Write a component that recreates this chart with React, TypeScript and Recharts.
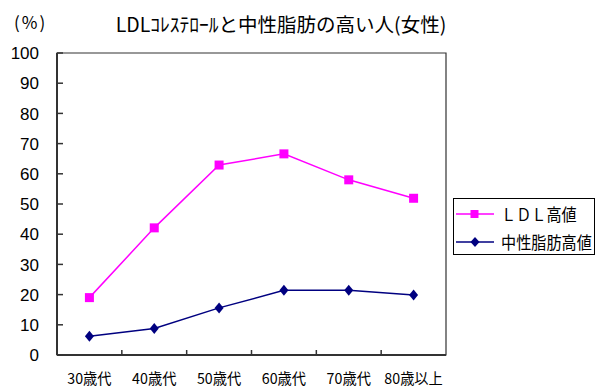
import React from 'react';
import { LineChart, Line, XAxis, YAxis, ReferenceArea } from 'recharts';

const categories = ['30歳代', '40歳代', '50歳代', '60歳代', '70歳代', '80歳以上'];
const ldlValues = [19.0, 42.1, 62.9, 66.6, 58.0, 51.9];
const tgValues = [6.2, 8.8, 15.6, 21.4, 21.4, 19.9];
const yTicks = [0, 10, 20, 30, 40, 50, 60, 70, 80, 90, 100];
const seriesNames = ['ＬＤＬ高値', '中性脂肪高値'];
const titleText = 'LDLｺﾚｽﾃﾛｰﾙと中性脂肪の高い人(女性)';
const unitText = '(%)';

const data = categories.map((c, i) => ({ cat: c, ldl: ldlValues[i], tg: tgValues[i] }));

const W = 601;
const H = 388;
const M = { top: 53, right: 155, bottom: 0, left: 0 };
const Y_AXIS_W = 57;
const X_AXIS_H = 33;
const PLOT_W = W - M.right - M.left - Y_AXIS_W;
const BAND = PLOT_W / categories.length;

const LDL_COLOR = '#FF00FF';
const TG_COLOR = '#000080';
const AXIS_COLOR = '#333333';
const CJK = '"Noto Sans CJK JP", "Noto Sans", sans-serif';
const LATIN = '"Liberation Sans", Arial, sans-serif';

const SquareDot = (props: any) => {
  const { cx, cy } = props;
  if (cx == null || cy == null) return null;
  return <rect x={cx - 4.5} y={cy - 4.5} width={9} height={9} fill={LDL_COLOR} />;
};

const DiamondDot = (props: any) => {
  const { cx, cy } = props;
  if (cx == null || cy == null) return null;
  const r = 5.5;
  return (
    <polygon
      points={`${cx},${cy - r} ${cx + r - 1},${cy} ${cx},${cy + r} ${cx - r + 1},${cy}`}
      fill={TG_COLOR}
    />
  );
};

const YTick = (props: any) => {
  const { x, y, payload } = props;
  return (
    <g>
      <line x1={x} x2={x + 6} y1={y} y2={y} stroke={AXIS_COLOR} strokeWidth={1.5} />
      <text x={x - 18} y={y} dy="0.36em" textAnchor="end" fontFamily={LATIN} fontSize={17} fill="#000">
        {payload.value}
      </text>
    </g>
  );
};

const XTick = (props: any) => {
  const { x, y, payload, index } = props;
  return (
    <g>
      {index < categories.length - 1 && (
        <line x1={x + BAND / 2} x2={x + BAND / 2} y1={y} y2={y - 5} stroke={AXIS_COLOR} strokeWidth={1.5} />
      )}
      <text
        x={x}
        y={y + 24}
        dy="0.36em"
        textAnchor="middle"
        fontFamily={CJK}
        fontSize={15}
        fill="#000"
        transform={`translate(${x} 0) scale(0.95 1) translate(${-x} 0)`}
      >
        {payload.value}
      </text>
    </g>
  );
};

const LegendBox = () => (
  <div
    style={{
      position: 'absolute',
      left: 453,
      top: 198,
      width: 142,
      height: 57,
      border: '1px solid #000',
      background: '#fff',
      boxSizing: 'border-box',
    }}
  >
    {[0, 1].map((i) => (
      <div key={i} style={{ position: 'absolute', left: 2, top: i === 0 ? 3 : 31, height: 24, width: 140 }}>
        <svg width={40} height={24} style={{ position: 'absolute', left: 0, top: 0 }}>
          <line x1={0} x2={38} y1={12} y2={12} stroke={i === 0 ? LDL_COLOR : TG_COLOR} strokeWidth={1.5} />
          {i === 0 ? (
            <rect x={14.5} y={8} width={8} height={8} fill={LDL_COLOR} />
          ) : (
            <polygon points="19,7 23.5,12 19,17 14.5,12" fill={TG_COLOR} />
          )}
        </svg>
        <div
          style={{
            position: 'absolute',
            left: 45,
            top: 0,
            height: 24,
            lineHeight: '24px',
            fontFamily: CJK,
            fontSize: 17,
            color: '#000',
            whiteSpace: 'nowrap',
            transform: 'scaleX(0.89)',
            transformOrigin: 'left center',
          }}
        >
          {seriesNames[i]}
        </div>
      </div>
    ))}
  </div>
);

export default function App() {
  return (
    <div style={{ position: 'absolute', left: 0, top: 0, width: W, height: H, background: '#fff' }}>
      <LineChart width={W} height={H} data={data} margin={M}>
        <XAxis
          dataKey="cat"
          scale="band"
          height={X_AXIS_H}
          axisLine={{ stroke: AXIS_COLOR, strokeWidth: 2 }}
          tickLine={false}
          tickSize={0}
          tickMargin={0}
          interval={0}
          tick={<XTick />}
        />
        <YAxis
          width={Y_AXIS_W}
          domain={[0, 100]}
          ticks={yTicks}
          interval={0}
          axisLine={{ stroke: AXIS_COLOR, strokeWidth: 2 }}
          tickLine={false}
          tickSize={0}
          tickMargin={0}
          tick={<YTick />}
        />
        <ReferenceArea
          x1={categories[0]}
          x2={categories[categories.length - 1]}
          y1={0}
          y2={100}
          fill="none"
          fillOpacity={0}
          stroke={AXIS_COLOR}
          strokeWidth={1.2}
        />
        <Line
          dataKey="ldl"
          stroke={LDL_COLOR}
          strokeWidth={1.5}
          dot={<SquareDot />}
          activeDot={false}
          isAnimationActive={false}
        />
        <Line
          dataKey="tg"
          stroke={TG_COLOR}
          strokeWidth={1.5}
          dot={<DiamondDot />}
          activeDot={false}
          isAnimationActive={false}
        />
      </LineChart>
      <div
        style={{
          position: 'absolute',
          left: 14,
          top: 10,
          fontFamily: CJK,
          fontSize: 17,
          lineHeight: '24px',
          color: '#000',
          whiteSpace: 'nowrap',
          letterSpacing: 2,
        }}
      >
        {unitText}
      </div>
      <div
        style={{
          position: 'absolute',
          left: 0,
          width: 562,
          top: 11,
          textAlign: 'center',
          fontFamily: CJK,
          fontSize: 19.5,
          lineHeight: '26px',
          color: '#000',
          whiteSpace: 'nowrap',
        }}
      >
        {titleText}
      </div>
      <LegendBox />
    </div>
  );
}
